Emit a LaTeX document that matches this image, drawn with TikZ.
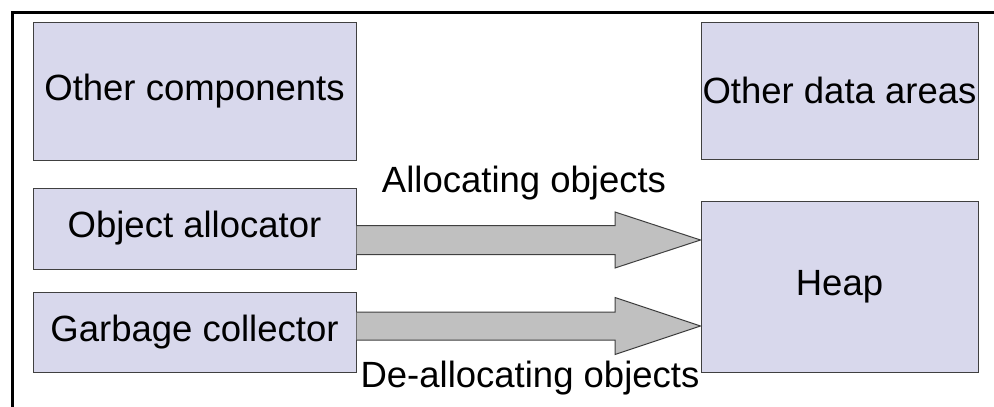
\documentclass[tikz,border=0pt]{standalone}
\usepackage{fontspec}
\setmainfont{Liberation Sans}
\usetikzlibrary{calc}
\definecolor{boxfill}{HTML}{D8D8EC}
\definecolor{boxline}{HTML}{404040}
\definecolor{arrowfill}{HTML}{C0C0C0}
\tikzset{
  compbox/.style={draw=boxline, fill=boxfill, line width=1pt, inner sep=0pt,
    font=\fontsize{36.5}{40}\selectfont},
  bigarrow/.style={draw=boxline, fill=arrowfill, line width=1pt, line join=miter},
  arrowlabel/.style={font=\fontsize{36.5}{40}\selectfont, inner sep=0pt}
}
\begin{document}
\begin{tikzpicture}[x=1pt, y=-1pt]
\useasboundingbox (0,0) rectangle (994,407);
\fill[white] (0,0) rectangle (994,407);
% outer frame (only top and left edges are shown)
\draw[line width=3pt] (12,407) -- (12,12) -- (994,12);

% component boxes
\node[compbox, minimum width=323pt, minimum height=138pt] (oc) at (194.5,91) {Other components};
\node[compbox, minimum width=323pt, minimum height=81pt] (oa) at (194.5,228.5) {Object allocator};
\node[compbox, minimum width=323pt, minimum height=80pt] (gc) at (194.5,332) {Garbage collector};
\node[compbox, minimum width=277pt, minimum height=137pt] (od) at (839.5,90.5) {Other data areas};
\node[compbox, minimum width=277pt, minimum height=171pt] (heap) at (839.5,286.5) {Heap};

% arrow axes
\coordinate (a1) at (oa.east |- 0,240);
\coordinate (a2) at (gc.east |- 0,326);

% block arrows from allocator / collector into the heap
\draw[bigarrow] ($(a1)+(0,-14.5)$) -- ($(a1 -| 615,0)+(0,-14.5)$) -- ($(a1 -| 615,0)+(0,-28)$)
  -- (heap.west |- a1) -- ($(a1 -| 615,0)+(0,28)$) -- ($(a1 -| 615,0)+(0,14.5)$)
  -- ($(a1)+(0,14.5)$);
\draw[bigarrow] ($(a2)+(0,-14)$) -- ($(a2 -| 615,0)+(0,-14)$) -- ($(a2 -| 615,0)+(0,-28.5)$)
  -- (heap.west |- a2) -- ($(a2 -| 615,0)+(0,28.5)$) -- ($(a2 -| 615,0)+(0,14)$)
  -- ($(a2)+(0,14)$);

% labels
\node[arrowlabel] (l1) at (524,183) {Allocating objects};
\node[arrowlabel] (l2) at (530,378) {De-allocating objects};
\end{tikzpicture}
\end{document}
